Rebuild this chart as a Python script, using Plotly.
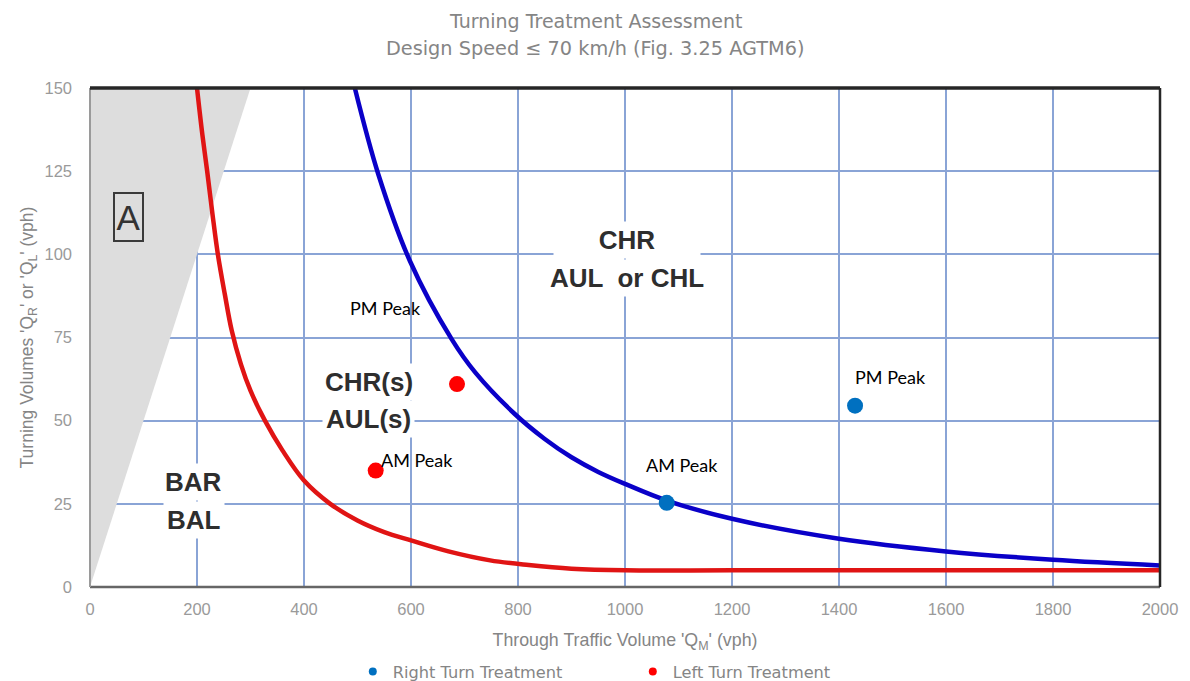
import plotly.graph_objects as go

# Treatment boundary curves
red_x = [200, 210, 219, 229, 239, 252, 265, 282, 300, 327, 360, 400, 449, 500, 550, 600, 670, 748, 820, 900, 1000, 1200, 1600, 2000]
red_y = [150, 136, 125, 112, 100, 88, 77, 67, 59, 50, 41, 32, 25, 20, 16.5, 14, 10.7, 8, 6.6, 5.5, 5, 5, 5, 5]

blue_x = [495, 539, 598, 676, 720, 794, 850, 900, 950, 1000, 1078, 1200, 1400, 1600, 1800, 2000]
blue_y = [150, 124, 98, 74.5, 64.5, 52, 44.5, 39, 34.6, 31, 26, 20.5, 14.5, 10.7, 8.2, 6.5]

# Shaded zone A
shade_x = [0, 0, 300]
shade_y = [0, 150, 150]

# Assessed movements
right_x = [1078, 1430]
right_y = [25.3, 54.5]
right_lbl = ["AM Peak", "PM Peak"]

left_x = [534, 686]
left_y = [35, 61]
left_lbl = ["AM Peak", "PM Peak"]

# Zone labels (one entry per printed line)
zone_txt = ["CHR", "AUL  or CHL", "CHR(s)", "AUL(s)", "BAR", "BAL"]
zone_x = [1003, 1003, 521, 521, 193.5, 193.5]
zone_y = [104.3, 93.0, 61.6, 50.5, 31.7, 20.1]
zone_w = [140, None, None, None, None, None]

x_ticks = [0, 200, 400, 600, 800, 1000, 1200, 1400, 1600, 1800, 2000]
y_ticks = [0, 25, 50, 75, 100, 125, 150]

GRID = "rgb(138,164,214)"
TGRAY = "#858585"
KGRAY = "#9a9a9a"
NARROW = "Liberation Sans, Arial, sans-serif"
WIDE = "DejaVu Sans, Verdana, sans-serif"

fig = go.Figure()

fig.add_trace(go.Scatter(x=shade_x, y=shade_y, fill="toself", mode="lines",
                         line=dict(width=0), fillcolor="rgb(221,221,221)",
                         showlegend=False, hoverinfo="skip"))
fig.add_trace(go.Scatter(x=red_x, y=red_y, mode="lines",
                         line=dict(color="#e01414", width=4.5, shape="spline", smoothing=1.0),
                         showlegend=False))
fig.add_trace(go.Scatter(x=blue_x, y=blue_y, mode="lines",
                         line=dict(color="#0a00c8", width=4.5, shape="spline", smoothing=1.0),
                         showlegend=False))
fig.add_trace(go.Scatter(x=right_x, y=right_y, mode="markers", name="Right Turn Treatment",
                         legendgroup="r", showlegend=False,
                         marker=dict(color="#0070c0", size=16)))
fig.add_trace(go.Scatter(x=left_x, y=left_y, mode="markers", name="Left Turn Treatment",
                         legendgroup="l", showlegend=False,
                         marker=dict(color="#ff0000", size=16)))
# legend entries (small symbols as in the original key)
fig.add_trace(go.Scatter(x=[None], y=[None], mode="markers", name="Right Turn Treatment",
                         legendgroup="r", marker=dict(color="#0070c0", size=8)))
fig.add_trace(go.Scatter(x=[None], y=[None], mode="markers", name="Left Turn Treatment",
                         legendgroup="l", marker=dict(color="#ff0000", size=8)))

lab_font = dict(family="Lato, Open Sans, sans-serif", size=18, color="black")
# peak labels
fig.add_annotation(x=right_x[0], y=right_y[0], text=right_lbl[0], showarrow=False,
                   xshift=15, yshift=38, font=lab_font, bgcolor="white", borderpad=3)
fig.add_annotation(x=right_x[1], y=right_y[1], text=right_lbl[1], showarrow=False,
                   xshift=35, yshift=29, font=lab_font)
fig.add_annotation(x=left_x[0], y=left_y[0], text=left_lbl[0], showarrow=False,
                   xshift=41, yshift=11, font=lab_font)
fig.add_annotation(x=left_x[1], y=left_y[1], text=left_lbl[1], showarrow=False,
                   xshift=-72, yshift=76, font=lab_font)

zone_font = dict(family="Liberation Sans, Arial", size=26, color="#2e2e2e")
for t, zx, zy, zw in zip(zone_txt, zone_x, zone_y, zone_w):
    fig.add_annotation(x=zx, y=zy, text="<b>" + t + "</b>", showarrow=False,
                       font=zone_font, bgcolor="white", borderpad=3, width=zw)
fig.add_annotation(x=71.8, y=111.3, text="A", showarrow=False,
                   font=dict(family="Liberation Sans, Arial", size=35, color="#333333"),
                   bordercolor="#3a3a3a", borderwidth=2, borderpad=1, width=25, height=44)

# title lines
fig.add_annotation(xref="paper", yref="paper", x=0.472, y=1 + (88 - 20.7) / 499, yanchor="middle",
                   text="Turning Treatment Assessment", showarrow=False,
                   font=dict(family=WIDE, size=19, color=TGRAY))
fig.add_annotation(xref="paper", yref="paper", x=0.472, y=1 + (88 - 48.3) / 499, yanchor="middle",
                   text="Design Speed \u2264 70 km/h (Fig. 3.25 AGTM6)", showarrow=False,
                   font=dict(family=WIDE, size=19.3, color=TGRAY))

# borders
fig.add_shape(type="line", xref="paper", yref="paper", x0=0, x1=1, y0=0, y1=0,
              line=dict(color="#666666", width=2.5))
fig.add_shape(type="line", xref="paper", yref="paper", x0=0, x1=0, y0=0, y1=1,
              line=dict(color="#9a9a9a", width=2))
fig.add_shape(type="line", xref="paper", yref="paper", x0=0, x1=1, y0=1, y1=1,
              line=dict(color="#262626", width=3.5))
fig.add_shape(type="line", xref="paper", yref="paper", x0=1, x1=1, y0=0, y1=1,
              line=dict(color="#262626", width=2.5))

tick_font = dict(family=NARROW, size=16.5, color=KGRAY)

fig.update_layout(
    width=1190, height=681,
    margin=dict(l=90, r=30, t=88, b=94, autoexpand=False),
    paper_bgcolor="white", plot_bgcolor="white",
    xaxis=dict(range=[0, 2000], tickvals=x_ticks, showgrid=True, gridcolor=GRID, gridwidth=2,
               zeroline=False, tickfont=tick_font, ticks="", ticklabelstandoff=10,
               title=dict(text="Through Traffic Volume 'Q<sub>M</sub>' (vph)", standoff=17,
                          font=dict(family=NARROW, size=17.8, color=TGRAY))),
    yaxis=dict(range=[0, 150], tickvals=y_ticks, showgrid=True, gridcolor=GRID, gridwidth=2,
               zeroline=False, tickfont=tick_font, ticks="", ticklabelstandoff=17,
               title=dict(text="Turning Volumes 'Q<sub>R</sub>' or 'Q<sub>L</sub>' (vph)", standoff=6,
                          font=dict(family=NARROW, size=17.5, color=TGRAY))),
    legend=dict(orientation="h", x=0.2456, xanchor="left", y=-(672 - 587) / 499, yanchor="middle",
                font=dict(family=WIDE, size=16.2, color=TGRAY), itemwidth=30,
                entrywidth=235, entrywidthmode="pixels"),
)

fig.write_html("out.html", config={"displayModeBar": False},
               post_script="document.body.style.margin='0';")
